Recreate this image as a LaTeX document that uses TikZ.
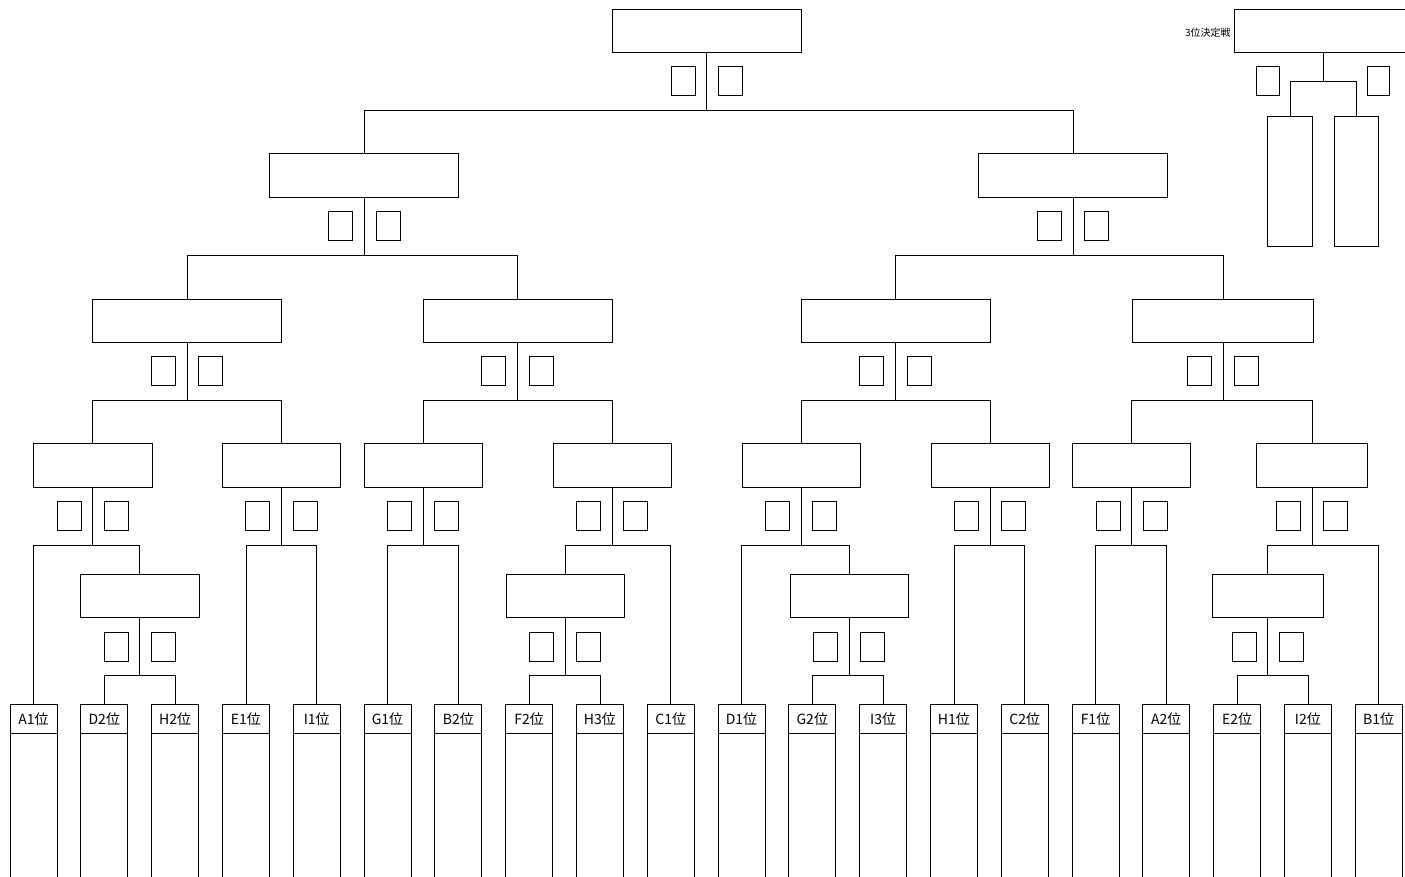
\documentclass[tikz,border=0pt]{standalone}
\usepackage{fontspec}
\setmainfont{Noto Sans CJK JP}
\usetikzlibrary{positioning}

\begin{document}
\begin{tikzpicture}[x=1pt,y=-1pt,line width=0.8pt,
  waku/.style={draw,rectangle,inner sep=0pt,outer sep=0pt,minimum height=43.5pt},
  ten/.style={draw,rectangle,inner sep=0pt,outer sep=0pt,minimum width=24pt,minimum height=29pt},
  fuda/.style={draw,rectangle,inner sep=0pt,outer sep=0pt,minimum width=47pt,minimum height=29pt,anchor=north west,font=\fontsize{14}{16}\selectfont},
  retsu/.style={draw,rectangle,inner sep=0pt,outer sep=0pt,minimum width=47pt,minimum height=160pt}]
\useasboundingbox (0,0) rectangle (1405,877);
\clip (0,0) rectangle (1405,877);

% entries
\foreach \lbl [count=\i from 0] in {A1,D2,H2,E1,I1,G1,B2,F2,H3,C1,D1,G2,I3,H1,C2,F1,A2,E2,I2,B1}
{
  \node[fuda] (e\i) at ({10+70.8*\i},704.3) {\lbl 位};
  \node[retsu,below=0pt of e\i] (c\i) {};
}

% match boxes
\node[waku,minimum width=189pt] (F) at (706.8,30.8) {};
\node[waku,minimum width=189pt] (S1) at (364.3,175.5) {};
\node[waku,minimum width=189pt] (S2) at (1073,175.5) {};
\node[waku,minimum width=189pt] (Q1) at (187,320.7) {};
\node[waku,minimum width=189pt] (Q2) at (517.5,320.7) {};
\node[waku,minimum width=189pt] (Q3) at (895.5,320.7) {};
\node[waku,minimum width=181pt] (Q4) at (1223,320.7) {};
\node[waku,minimum width=118.5pt] (R1) at (92.7,465.5) {};
\node[waku,minimum width=118.5pt] (R2) at (281.5,465.5) {};
\node[waku,minimum width=118pt] (R3) at (423,465.5) {};
\node[waku,minimum width=118pt] (R4) at (612,465.5) {};
\node[waku,minimum width=118pt] (R5) at (801,465.5) {};
\node[waku,minimum width=118pt] (R6) at (990,465.5) {};
\node[waku,minimum width=118pt] (R7) at (1131.7,465.5) {};
\node[waku,minimum width=110.6pt] (R8) at (1312,465.5) {};
\node[waku,minimum width=119pt] (P1) at (139.8,596) {};
\node[waku,minimum width=118pt] (P2) at (565,596) {};
\node[waku,minimum width=118pt] (P3) at (849,596) {};
\node[waku,minimum width=111pt] (P4) at (1267.8,596) {};

% score squares
\foreach \m in {F,S1,S2,Q1,Q2,Q3,Q4,R1,R2,R3,R4,R5,R6,R7,R8,P1,P2,P3,P4}
{
  \node[ten] (\m-l) at ([xshift=-23.7pt,yshift=-28.8pt]\m.south) {};
  \node[ten] (\m-r) at ([xshift=23.7pt,yshift=-28.8pt]\m.south) {};
}

% bracket lines
\foreach \m/\a/\b in {F/S1/S2,S1/Q1/Q2,S2/Q3/Q4,Q1/R1/R2,Q2/R3/R4,Q3/R5/R6,Q4/R7/R8,
  R1/e0/P1,R2/e3/e4,R3/e5/e6,R4/P2/e9,R5/e10/P3,R6/e13/e14,R7/e15/e16,R8/P4/e19,
  P1/e1/e2,P2/e7/e8,P3/e11/e12,P4/e17/e18}
{
  \draw (\m.south) -- ++(0,57.7) coordinate (j\m);
  \draw (\a.north) |- (j\m) -| (\b.north);
}

% third place
\node[waku,minimum width=178pt] (T) at (1323,30.8) {};
\node[left,inner sep=1pt,font=\fontsize{10}{12}\selectfont] (Tlbl) at (1232,33) {3位決定戦};
\node[ten,minimum width=22.5pt] (T-l) at (1267.9,81.3) {};
\node[ten,minimum width=22pt] (T-r) at (1378.3,81.3) {};
\node[retsu,minimum width=44.6pt,minimum height=130pt] (T1) at (1290,181) {};
\node[retsu,minimum width=44.6pt,minimum height=130pt] (T2) at (1356.3,181) {};
\draw (T.south) -- ++(0,28.7) coordinate (jT);
\draw (T1.north) |- (jT) -| (T2.north);
\end{tikzpicture}
\end{document}
